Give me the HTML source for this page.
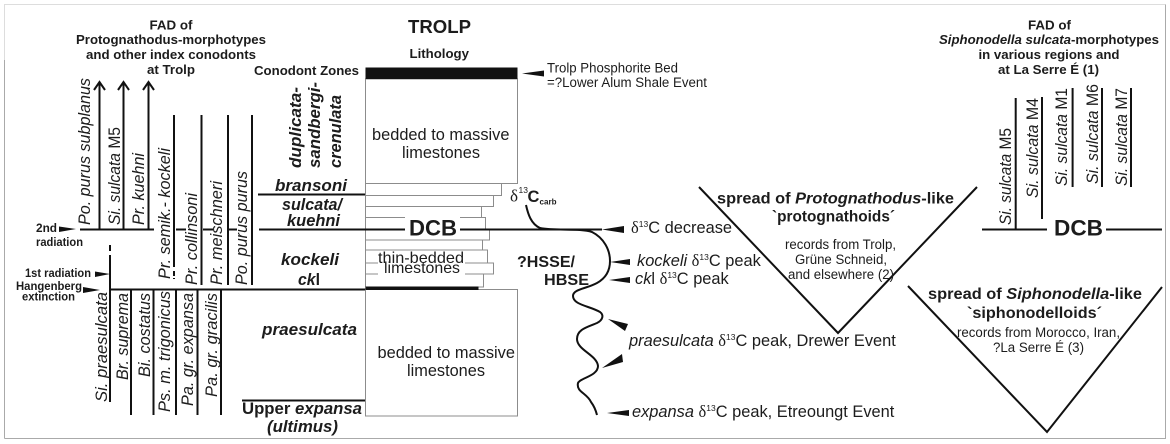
<!DOCTYPE html>
<html>
<head>
<meta charset="utf-8">
<style>
html,body{margin:0;padding:0;background:#fff}
svg{display:block}
text{font-family:"Liberation Sans",sans-serif;fill:#1c1c1c}
.b{font-weight:bold}
.i{font-style:italic}
.bi{font-weight:bold;font-style:italic}
.s{font-family:"Liberation Serif",serif}
.l{stroke:#111;stroke-width:2;fill:none}
.g{stroke:#8c8c8c;stroke-width:1;fill:#fff}
.a{fill:#111}
.r{font-style:italic;font-size:16.500px}
.n{font-style:normal}
.z{font-weight:bold;font-style:italic;font-size:17px}
.h{font-weight:bold;font-size:13.200px;text-anchor:middle}
.e{font-size:16.400px}
.sm{font-size:13.500px;text-anchor:middle}
.u{font-size:8.500px}
</style>
</head>
<body>
<svg width="1170" height="444" viewBox="0 0 1170 444" xmlns="http://www.w3.org/2000/svg">
<rect width="1170" height="444" fill="#fff"/>
<path d="M4.500 60V4.500H1165.500" fill="none" stroke="#ddd" stroke-width="1"/>
<path d="M4.500 438.500H1165.500V4.500" fill="none" stroke="#aaa" stroke-width="1"/>
<path d="M4.500 60V438.500" fill="none" stroke="#aaa" stroke-width="1"/>

<!-- left header -->
<text class="h" x="171" y="29.500" textLength="43" lengthAdjust="spacingAndGlyphs">FAD of</text>
<text class="h" x="171" y="44" textLength="190" lengthAdjust="spacingAndGlyphs">Protognathodus-morphotypes</text>
<text class="h" x="171" y="59" textLength="170" lengthAdjust="spacingAndGlyphs">and other index conodonts</text>
<text class="h" x="171" y="74" textLength="48" lengthAdjust="spacingAndGlyphs">at Trolp</text>
<text class="h" x="306.500" y="75" textLength="105" lengthAdjust="spacingAndGlyphs">Conodont Zones</text>

<!-- arrows -->
<path class="l" d="M99.500 229V83M123.500 229V83M148.500 229V83"/>
<path class="l" d="M94 90L99.500 82L105 90M118 90L123.500 82L129 90M143 90L148.500 82L154 90"/>
<path class="l" d="M174 115V267M174 271V276M174 278V279"/>
<path class="l" d="M201.500 115V285M228 115V285M252 115V285"/>
<path class="l" d="M80 229.500H154M176 229.500H186M203 229.500H213M227 229.500H237"/>
<path class="l" d="M258 194.500H366"/>
<path class="l" d="M110 245V251M110 255V402"/>
<path class="l" d="M131 290V415M153.500 290V415M176 290V415M197.500 290V415M221 290V415"/>
<path class="l" d="M109 289.500H366"/>
<path class="l" d="M242 400.500H365"/>

<!-- rotated left labels -->
<text class="r" transform="translate(90,225) rotate(-90)" textLength="147" lengthAdjust="spacingAndGlyphs">Po. purus subplanus</text>
<text class="r" transform="translate(120,225) rotate(-90)" textLength="98" lengthAdjust="spacingAndGlyphs">Si. sulcata <tspan class="n">M5</tspan></text>
<text class="r" transform="translate(144,225) rotate(-90)" textLength="72" lengthAdjust="spacingAndGlyphs">Pr. kuehni</text>
<text class="r" transform="translate(170,279) rotate(-90)" textLength="131" lengthAdjust="spacingAndGlyphs">Pr. semik.- kockeli</text>
<text class="r" transform="translate(197,285) rotate(-90)" textLength="92" lengthAdjust="spacingAndGlyphs">Pr. collinsoni</text>
<text class="r" transform="translate(222,285) rotate(-90)" textLength="104" lengthAdjust="spacingAndGlyphs">Pr. meischneri</text>
<text class="r" transform="translate(247,285) rotate(-90)" textLength="114" lengthAdjust="spacingAndGlyphs">Po. purus purus</text>
<text class="r" transform="translate(107,402) rotate(-90)" textLength="110" lengthAdjust="spacingAndGlyphs">Si. praesulcata</text>
<text class="r" transform="translate(128,380) rotate(-90)" textLength="87" lengthAdjust="spacingAndGlyphs">Br. suprema</text>
<text class="r" transform="translate(150,377) rotate(-90)" textLength="84" lengthAdjust="spacingAndGlyphs">Bi. costatus</text>
<text class="r" transform="translate(170,412) rotate(-90)" textLength="121" lengthAdjust="spacingAndGlyphs">Ps. m. trigonicus</text>
<text class="r" transform="translate(193,406) rotate(-90)" textLength="113" lengthAdjust="spacingAndGlyphs">Pa. gr. expansa</text>
<text class="r" transform="translate(217,397) rotate(-90)" textLength="104" lengthAdjust="spacingAndGlyphs">Pa. gr. gracilis</text>

<!-- zones -->
<text class="z" transform="translate(301,168) rotate(-90)" textLength="81" lengthAdjust="spacingAndGlyphs">duplicata-</text>
<text class="z" transform="translate(320,168) rotate(-90)" textLength="86" lengthAdjust="spacingAndGlyphs">sandbergi-</text>
<text class="z" transform="translate(341,168) rotate(-90)" textLength="73" lengthAdjust="spacingAndGlyphs">crenulata</text>
<text class="z" x="275" y="191" textLength="72" lengthAdjust="spacingAndGlyphs">bransoni</text>
<text class="z" x="282" y="210" textLength="60" lengthAdjust="spacingAndGlyphs">sulcata/</text>
<text class="z" x="287" y="226" textLength="53" lengthAdjust="spacingAndGlyphs">kuehni</text>
<text class="z" x="281" y="265" textLength="58" lengthAdjust="spacingAndGlyphs">kockeli</text>
<text class="z" x="298" y="285" textLength="22" lengthAdjust="spacingAndGlyphs">ck<tspan font-style="normal">l</tspan></text>
<text class="z" x="262" y="335" textLength="95" lengthAdjust="spacingAndGlyphs">praesulcata</text>
<text class="b" font-size="17" x="242" y="414" textLength="120" lengthAdjust="spacingAndGlyphs">Upper <tspan font-style="italic">expansa</tspan></text>
<text class="z" x="267" y="432" textLength="71" lengthAdjust="spacingAndGlyphs">(ultimus)</text>

<!-- radiation labels -->
<text class="b" font-size="12" x="36" y="232" textLength="21" lengthAdjust="spacingAndGlyphs">2nd</text>
<text class="b" font-size="12" x="36" y="246" textLength="47" lengthAdjust="spacingAndGlyphs">radiation</text>
<text class="b" font-size="12" x="25" y="277" textLength="66" lengthAdjust="spacingAndGlyphs">1st radiation</text>
<text class="b" font-size="12" x="16" y="290" textLength="66" lengthAdjust="spacingAndGlyphs">Hangenberg</text>
<text class="b" font-size="12" x="22" y="300.500" textLength="53" lengthAdjust="spacingAndGlyphs">extinction</text>
<path class="a" d="M59 226.500L76 229L59 232ZM95 271.500L110 274L95 277ZM83 287L100 290L83 293Z"/>

<!-- lithology -->
<text class="b" font-size="18.500" x="408" y="33" textLength="63" lengthAdjust="spacingAndGlyphs">TROLP</text>
<text class="b" font-size="13" x="409.500" y="58" textLength="59.500" lengthAdjust="spacingAndGlyphs">Lithology</text>
<g class="g">
<rect x="365.500" y="79" width="152" height="104.500"/>
<rect x="365.500" y="183.500" width="136" height="12"/>
<rect x="365.500" y="195.500" width="128" height="11"/>
<rect x="365.500" y="206.500" width="116" height="11"/>
<rect x="365.500" y="217.500" width="120" height="12"/>
<rect x="365.500" y="229.500" width="124" height="10.500"/>
<rect x="365.500" y="240" width="117" height="10"/>
<rect x="365.500" y="250" width="122" height="13"/>
<rect x="365.500" y="263" width="128" height="11"/>
<rect x="365.500" y="274" width="118" height="13"/>
<rect x="365.500" y="289.500" width="152" height="126.500"/>
</g>
<rect x="365.500" y="67.500" width="152" height="11.500" fill="#111"/>
<rect x="365.500" y="286.500" width="113" height="3.500" fill="#111"/>
<path class="l" d="M259 229.500H406M460 229.500H602"/>
<rect x="405" y="217" width="55" height="22" fill="#fff"/>
<text class="b" font-size="22" x="409" y="235.500" textLength="48" lengthAdjust="spacingAndGlyphs">DCB</text>
<rect x="378" y="251" width="87" height="24" fill="#fff"/>
<text font-size="16" x="378" y="263" textLength="86" lengthAdjust="spacingAndGlyphs">thin-bedded</text>
<text font-size="16" x="384" y="273" textLength="76" lengthAdjust="spacingAndGlyphs">limestones</text>
<text font-size="16.500" x="372" y="140" textLength="137.500" lengthAdjust="spacingAndGlyphs">bedded to massive</text>
<text font-size="16.500" x="402" y="158" textLength="78" lengthAdjust="spacingAndGlyphs">limestones</text>
<text font-size="16.500" x="377.500" y="358" textLength="137.500" lengthAdjust="spacingAndGlyphs">bedded to massive</text>
<text font-size="16.500" x="407" y="376" textLength="78" lengthAdjust="spacingAndGlyphs">limestones</text>

<path class="a" d="M522 73.500L544 70.500V76.500Z"/>
<text font-size="13.500" x="547" y="72.500" textLength="131" lengthAdjust="spacingAndGlyphs">Trolp Phosphorite Bed</text>
<text font-size="13.500" x="547" y="87" textLength="160" lengthAdjust="spacingAndGlyphs">=?Lower Alum Shale Event</text>

<!-- delta label -->
<text class="s" font-size="17" x="510" y="201.500">δ</text>
<text font-size="8.500" x="518.500" y="193">13</text>
<text class="b" font-size="16.500" x="527.500" y="202">C</text>
<text class="b" font-size="8" x="539.500" y="204.500" textLength="17" lengthAdjust="spacingAndGlyphs">carb</text>

<!-- curve -->
<path d="M526 205C528 214 531 224 540 228C555 231 580 228 592 232C604 238 610 250 610 261C610 271 606 278 597 283C586 289 573 289 573 296C573 305 590 306 600 312C604 315 603 320 597 323C588 327 577 329 577 339C577 350 597 355 598 366C598 376 580 378 578 383C576 392 587 393 591 402C594 406 596 411 597 415" fill="none" stroke="#111" stroke-width="2"/>

<text class="b" font-size="16" x="517" y="267" textLength="58" lengthAdjust="spacingAndGlyphs">?HSSE/</text>
<text class="b" font-size="16" x="544" y="285" textLength="45" lengthAdjust="spacingAndGlyphs">HBSE</text>

<!-- event arrowheads -->
<path class="a" d="M602 229.500L624 226V233ZM610 262L630 259V265ZM609 280L630 277V283ZM608 319L628 324L625 331ZM602 368L622 354L623 362ZM607 413L629 410V416Z"/>

<!-- event labels -->
<text class="e" x="631" y="233"><tspan class="s">δ</tspan><tspan class="u" dy="-6">13</tspan><tspan dy="6">C decrease</tspan></text>
<text class="e" x="637" y="266"><tspan font-style="italic">kockeli </tspan><tspan class="s">δ</tspan><tspan class="u" dy="-6">13</tspan><tspan dy="6">C peak</tspan></text>
<text class="e" x="635" y="284"><tspan font-style="italic">ck</tspan>l <tspan class="s">δ</tspan><tspan class="u" dy="-6">13</tspan><tspan dy="6">C peak</tspan></text>
<text class="e" x="629" y="346"><tspan font-style="italic">praesulcata </tspan><tspan class="s">δ</tspan><tspan class="u" dy="-6">13</tspan><tspan dy="6">C peak, Drewer Event</tspan></text>
<text class="e" x="632" y="417"><tspan font-style="italic">expansa </tspan><tspan class="s">δ</tspan><tspan class="u" dy="-6">13</tspan><tspan dy="6">C peak, Etreoungt Event</tspan></text>

<!-- V shapes -->
<path class="l" d="M699 187L838 333L977 187"/>
<path class="l" d="M908 286L1047 432L1162 287"/>
<text class="b" font-size="16" x="717" y="203.500" textLength="237" lengthAdjust="spacingAndGlyphs">spread of <tspan font-style="italic">Protognathodus</tspan>-like</text>
<text class="b" font-size="16" x="772" y="221.500" textLength="123" lengthAdjust="spacingAndGlyphs">`protognathoids´</text>
<text class="sm" x="840.500" y="249" textLength="111" lengthAdjust="spacingAndGlyphs">records from Trolp,</text>
<text class="sm" x="841" y="264" textLength="92" lengthAdjust="spacingAndGlyphs">Grüne Schneid,</text>
<text class="sm" x="841" y="279" textLength="106" lengthAdjust="spacingAndGlyphs">and elsewhere (2)</text>
<text class="b" font-size="16" x="928" y="299" textLength="214" lengthAdjust="spacingAndGlyphs">spread of <tspan font-style="italic">Siphonodella</tspan>-like</text>
<text class="b" font-size="16" x="967" y="318" textLength="135" lengthAdjust="spacingAndGlyphs">`siphonodelloids´</text>
<text class="sm" x="1038.500" y="337" textLength="163" lengthAdjust="spacingAndGlyphs">records from Morocco, Iran,</text>
<text class="sm" x="1038.500" y="352" textLength="91" lengthAdjust="spacingAndGlyphs">?La Serre É (3)</text>

<!-- right header -->
<text class="h" x="1049.500" y="29.500" textLength="43" lengthAdjust="spacingAndGlyphs">FAD of</text>
<text class="h" x="1049" y="44" textLength="220" lengthAdjust="spacingAndGlyphs"><tspan font-style="italic">Siphonodella sulcata</tspan>-morphotypes</text>
<text class="h" x="1049" y="59" textLength="141" lengthAdjust="spacingAndGlyphs">in various regions and</text>
<text class="h" x="1048.500" y="74" textLength="101" lengthAdjust="spacingAndGlyphs">at La Serre É (1)</text>

<path class="l" d="M1015.700 98V229M1042 97V219M1072.600 88V187M1102 88V187M1131 88V187"/>
<path class="l" d="M982 229.500H1047M1106 229.500H1162"/>
<text class="b" font-size="22" x="1054" y="235.500" textLength="49" lengthAdjust="spacingAndGlyphs">DCB</text>
<text class="r" transform="translate(1011,225) rotate(-90)" textLength="97" lengthAdjust="spacingAndGlyphs">Si. sulcata <tspan class="n">M5</tspan></text>
<text class="r" transform="translate(1038,198) rotate(-90)" textLength="100" lengthAdjust="spacingAndGlyphs">Si. sulcata <tspan class="n">M4</tspan></text>
<text class="r" transform="translate(1067,186) rotate(-90)" textLength="98" lengthAdjust="spacingAndGlyphs">Si. sulcata <tspan class="n">M1</tspan></text>
<text class="r" transform="translate(1098,184) rotate(-90)" textLength="100" lengthAdjust="spacingAndGlyphs">Si. sulcata <tspan class="n">M6</tspan></text>
<text class="r" transform="translate(1127,186) rotate(-90)" textLength="98" lengthAdjust="spacingAndGlyphs">Si. sulcata <tspan class="n">M7</tspan></text>
</svg>
</body>
</html>
